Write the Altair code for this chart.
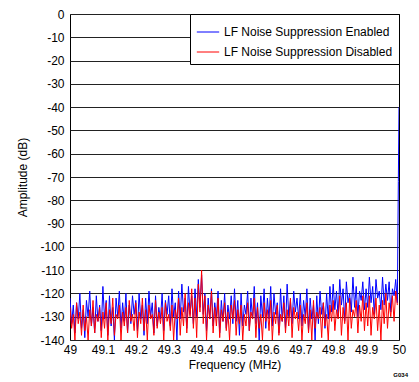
import altair as alt
import pandas as pd

series_names = ["LF Noise Suppression Enabled", "LF Noise Suppression Disabled"]
colors = ["#0000ff", "#ff0000"]

freq_start = 49.0
freq_step = 0.005

enabled = [
    -122, -133, -125, -137, -124, -131, -120, -135, -127, -139, -123, -130, -119, -134, -126, -137, -121, -132, -125, -136,
    -117, -131, -123, -138, -121, -134, -126, -140, -122, -130, -119, -135, -124, -132, -120, -137, -125, -133, -121, -129,
    -123, -136, -120, -131, -125, -138, -122, -133, -119, -130, -124, -137, -121, -134, -126, -131, -120, -136, -123, -129,
    -121, -134, -118, -130, -124, -140, -119, -131, -116, -128, -122, -135, -117, -129, -121, -133, -118, -130, -114, -126,
    -112, -129, -120, -136, -122, -131, -118, -134, -124, -130, -119, -137, -123, -132, -120, -135, -125, -131, -121, -133,
    -118, -132, -123, -138, -120, -134, -125, -129, -119, -136, -122, -131, -117, -133, -124, -140, -121, -130, -118, -135,
    -122, -131, -117, -134, -120, -129, -124, -137, -118, -132, -121, -135, -116, -130, -123, -133, -119, -128, -122, -131,
    -120, -134, -123, -130, -118, -136, -122, -131, -125, -140, -121, -133, -119, -129, -124, -135, -120, -131, -117, -128,
    -116, -127, -119, -130, -114, -125, -118, -132, -115, -124, -120, -128, -113, -126, -117, -130, -119, -123, -115, -127,
    -118, -126, -113, -124, -117, -129, -114, -122, -119, -127, -113, -125, -116, -123, -115, -128, -118, -121, -114, -124,
]
enabled_tail_freq = [49.998, 50.0]
enabled_tail = [-72, -40]

disabled = [
    -126, -135, -129, -140, -124, -133, -128, -138, -125, -136, -130, -140, -127, -134, -123, -137, -129, -132, -126, -139,
    -128, -135, -124, -140, -127, -133, -122, -138, -129, -131, -125, -140, -128, -134, -126, -137, -123, -132, -129, -136,
    -124, -139, -128, -133, -122, -136, -127, -140, -125, -131, -129, -138, -123, -135, -128, -133, -126, -140, -124, -132,
    -129, -136, -125, -140, -127, -131, -122, -138, -126, -134, -120, -137, -124, -130, -118, -135, -122, -139, -116, -128,
    -110, -133, -121, -140, -125, -131, -119, -137, -126, -134, -122, -139, -127, -132, -124, -136, -128, -140, -125, -131,
    -123, -138, -127, -133, -125, -140, -129, -134, -124, -136, -128, -131, -122, -139, -126, -135, -129, -140, -124, -132,
    -127, -136, -123, -140, -128, -133, -125, -138, -129, -132, -124, -137, -127, -134, -122, -139, -126, -131, -128, -136,
    -125, -140, -129, -133, -124, -137, -127, -140, -123, -135, -128, -131, -126, -139, -124, -134, -129, -140, -125, -132,
    -123, -136, -127, -131, -121, -138, -126, -133, -124, -140, -122, -135, -127, -130, -123, -137, -125, -132, -121, -136,
    -124, -134, -121, -138, -126, -131, -122, -136, -125, -140, -123, -133, -120, -135, -124, -130, -121, -132, -119, -125,
]

y_ticks = list(range(-140, 1, 10))
x_ticks = [49.0, 49.1, 49.2, 49.3, 49.4, 49.5, 49.6, 49.7, 49.8, 49.9, 50.0]

rows = []
order = 0
for i, v in enumerate(enabled):
    rows.append({"f": round(freq_start + i * freq_step, 4), "a": v, "s": series_names[0], "o": order}); order += 1
for f, v in zip(enabled_tail_freq, enabled_tail):
    rows.append({"f": f, "a": v, "s": series_names[0], "o": order}); order += 1
for i, v in enumerate(disabled):
    rows.append({"f": round(freq_start + i * freq_step, 4), "a": v, "s": series_names[1], "o": order}); order += 1
df = pd.DataFrame(rows)

FONT = "Liberation Sans"

lines = alt.Chart(df).mark_line(strokeWidth=1, clip=True).encode(
    x=alt.X("f:Q", scale=alt.Scale(domain=[49, 50], nice=False, zero=False),
            axis=alt.Axis(values=x_ticks, title="Frequency (MHz)", grid=False,
                          labelExpr="format(datum.value, '.1~f')",
                          ticks=False, labelPadding=4, titlePadding=4,
                          labelFlush=False, domain=False)),
    y=alt.Y("a:Q", scale=alt.Scale(domain=[-140, 0], nice=False, zero=False),
            axis=alt.Axis(values=y_ticks, title="Amplitude (dB)", grid=True,
                          labelExpr="'' + datum.value",
                          ticks=False, labelPadding=6, titlePadding=10,
                          domain=False, labelFlush=False)),
    color=alt.Color("s:N", scale=alt.Scale(domain=series_names, range=colors),
                    legend=alt.Legend(title=None, orient="top-right", offset=0,
                                      strokeColor="black", fillColor="white",
                                      padding=6, symbolType="stroke",
                                      symbolSize=500, symbolStrokeWidth=1,
                                      labelFontSize=12, labelFont=FONT,
                                      labelLimit=0, labelColor="black",
                                      rowPadding=2, cornerRadius=0)),
    order="o:Q",
)

tag = alt.Chart(pd.DataFrame({"t": ["G034"]})).mark_text(
    font=FONT, fontSize=6, fontWeight="bold", align="right", baseline="middle"
).encode(text="t:N", x=alt.value(338), y=alt.value(361))

chart = alt.layer(lines, tag).properties(
    width=329, height=326,
    padding={"left": 62, "top": 6, "right": 12, "bottom": 44},
    autosize=alt.AutoSizeParams(type="none"),
).configure_view(stroke="black", strokeWidth=1).configure_axis(
    labelFont=FONT, titleFont=FONT, labelFontSize=12, titleFontSize=12,
    titleFontWeight="normal", labelColor="black", titleColor="black",
    gridColor="#222222", gridOpacity=1, gridWidth=1,
)

chart.save("out.html", embed_options={"renderer": "svg", "actions": False})
